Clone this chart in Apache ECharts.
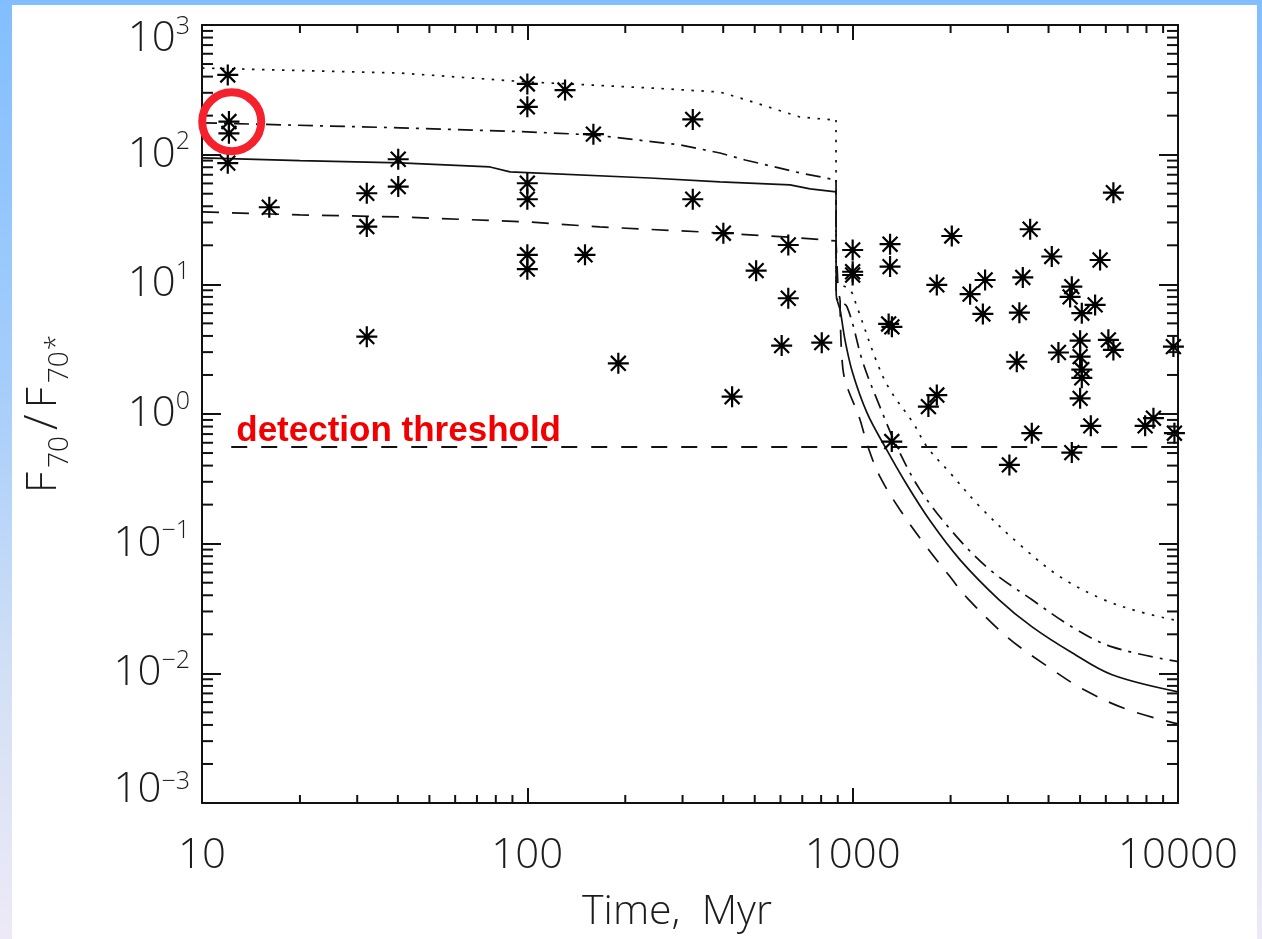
<!DOCTYPE html>
<html>
<head>
<meta charset="utf-8">
<script src="https://cdn.jsdelivr.net/npm/echarts@6/dist/echarts.min.js"></script>
<style>
  html, body { margin: 0; padding: 0; width: 1262px; height: 939px; overflow: hidden; }
  body { background: linear-gradient(to bottom, #82beff 0%, #a4cdfb 40%, #d2e0f5 72%, #eee9f7 100%); }
  #panel { position: absolute; left: 12px; top: 5px; width: 1245px; height: 934px; background: #ffffff; }
  #chart { position: absolute; left: 0; top: 0; width: 1262px; height: 939px; }
</style>
</head>
<body>
<div id="panel"></div>
<div id="chart"></div>
<script>
// Observed 70-micron excess ratios: [age in Myr, F70 / F70*]
const starAges = [
  12.0, 12.1, 12.1, 12.0, 16.1, 32.1, 32.1, 32.1, 40.1, 40.1,
  100, 100, 100, 100, 100, 100, 130.6, 159.6, 150.4, 190.4, 322.5, 322.5,
  400.4, 426, 505, 605, 634, 634, 803.5, 1000, 1000, 1000, 1303, 1303,
  1290, 1320, 1319, 1709, 1814, 1814, 2017, 2296, 2513, 2553, 3032, 3195,
  3254, 3334, 3512, 3553, 4093, 4290, 4716, 4660, 4716, 5062, 5002, 5002,
  5062, 5062, 5002, 5395, 5562, 5761, 6109, 6330, 6330, 7925, 8404, 9680, 9750
];
const starRatios = [
  412, 180, 146, 86, 39.3, 50.4, 27.9, 3.95, 92.2, 56.7,
  351, 234, 60.2, 45.3, 16.9, 13.1, 315, 144, 16.9, 2.46, 187, 45.3,
  24.8, 1.36, 12.75, 3.37, 20.1, 7.81, 3.55, 18.4, 12.5, 11.8, 20.4, 13.7,
  4.95, 4.7, 0.613, 1.14, 1.40, 9.9, 23.6, 8.4, 5.91, 10.8, 0.405, 2.53,
  6.05, 11.3, 26.6, 0.711, 16.4, 2.98, 9.6, 8.0, 0.504, 5.99, 3.68, 2.77,
  2.2, 1.9, 1.32, 0.81, 6.94, 15.4, 3.73, 3.12, 50.9, 0.81, 0.928, 3.31, 0.711
];

// Model evolution tracks: [age in Myr, F70 / F70*]
const solidTrack = [
  [10, 94.3], [20, 90], [40.6, 86.3], [76.8, 80.4], [88.5, 73.6], [238, 66.1], [391, 61.6],
  [642, 58.4], [740, 54.4], [889, 51.6], [890, 8.28], [915, 6.35], [947, 3.73], [1000, 2.07],
  [1107, 1.02], [1258, 0.557], [1449, 0.300], [1730, 0.150], [2139, 0.075], [2819, 0.0369],
  [3561, 0.0228], [4725, 0.0144], [6272, 0.00974], [10000, 0.0072]
];
const dashedTrack = [
  [10, 36.2], [20, 34.3], [40.6, 33.1], [100, 30.3], [167, 27.7], [340, 25.4], [689, 22.8],
  [889, 21.6], [902, 9.05], [915, 7.58], [934, 2.19], [1054, 0.90], [1115, 0.557], [1214, 0.327],
  [1399, 0.182], [1669, 0.0979], [1993, 0.0555], [2247, 0.0382], [2982, 0.0191], [3988, 0.01122],
  [5145, 0.00746], [7023, 0.00523], [10000, 0.00408]
];
const dashDotTrack = [
  [10, 176], [40.6, 161], [100, 150], [160, 142], [295, 119], [391, 103], [467, 91], [689, 72.3],
  [889, 63.8], [890, 8.0], [961, 6.70], [1076, 2.48], [1214, 1.13], [1369, 0.557], [1612, 0.26],
  [2064, 0.117], [2645, 0.0628], [3561, 0.0369], [4725, 0.0228], [6272, 0.016], [10000, 0.0123]
];
const dottedTrack = [
  [10, 466], [40.6, 426], [100, 364], [238, 327], [391, 304], [472, 264], [689, 195], [883, 185],
  [889, 185], [890, 10.8], [982, 9.05], [1031, 6.70], [1189, 2.48], [1303, 1.53], [1534, 0.854],
  [1693, 0.557], [1993, 0.351], [2464, 0.192], [3270, 0.0979], [4341, 0.0555], [5927, 0.0369],
  [7646, 0.0298], [10000, 0.0254]
];

// Detection threshold and the highlighted source
const thresholdLevel = 0.557;
const thresholdStart = 12.3;
const highlighted = [12.34, 179.7];

// Axis ranges and minor tick multipliers
const xRange = [10, 10000];
const yRange = [0.001, 1000];
const xDecades = [10, 100, 1000];
const yDecades = [0.001, 0.01, 0.1, 1, 10, 100];
const minorSteps = [2, 3, 4, 5, 6, 7, 8, 9];

const INK = '#111111';
const TEXT = '#1c1c1c';
const FONT = "'Open Sans', 'DejaVu Sans', sans-serif";

// minor tick items: [x, y, axisKind]
const minorTicks = [];
xDecades.forEach(d => minorSteps.forEach(m => minorTicks.push([d * m, 1, 0])));
yDecades.forEach(d => minorSteps.forEach(m => minorTicks.push([10, d * m, 1])));

function renderMinorTick(params, api) {
  const cs = params.coordSys;
  const kind = api.value(2);
  const p = api.coord([api.value(0), api.value(1)]);
  const st = { stroke: INK, lineWidth: 2 };
  if (kind === 0) {
    const yb = cs.y + cs.height, yt = cs.y;
    return { type: 'group', children: [
      { type: 'line', shape: { x1: p[0], y1: yb, x2: p[0], y2: yb - 8 }, style: st },
      { type: 'line', shape: { x1: p[0], y1: yt, x2: p[0], y2: yt + 8 }, style: st }
    ] };
  }
  const xl = cs.x, xr = cs.x + cs.width;
  return { type: 'group', children: [
    { type: 'line', shape: { x1: xl, y1: p[1], x2: xl + 11, y2: p[1] }, style: st },
    { type: 'line', shape: { x1: xr, y1: p[1], x2: xr - 11, y2: p[1] }, style: st }
  ] };
}

function yTickLabel(v) {
  const e = Math.round(Math.log10(v));
  const exp = e < 0 ? '\u2212' + (-e) : String(e);
  if (e === 3) return '{bt|10}{st|' + exp + '}';
  if (e === -3) return '{bb|10}{sb|' + exp + '}';
  return '{b|10}{s|' + exp + '}';
}

// split a track at its sharp drop: plateau drawn straight, decay drawn smooth
function trackSeries(track, dash) {
  let k = track.length - 1;
  for (let i = 0; i < track.length - 1; i++) {
    if (track[i + 1][1] < track[i][1] / 3) { k = i; break; }
  }
  const base = {
    type: 'line', symbol: 'none', silent: true, z: 3,
    lineStyle: { color: INK, width: 1.7, type: dash, cap: 'butt' }
  };
  return [
    Object.assign({}, base, { data: track.slice(0, k + 1) }),
    Object.assign({}, base, { data: track.slice(k), smooth: 0.35 })
  ];
}

const tickText = { fontFamily: FONT, fontWeight: 300, color: TEXT };
const frameLine = { show: true, lineStyle: { color: INK, width: 2 } };

const chart = echarts.init(document.getElementById('chart'), null, { renderer: 'canvas' });
chart.setOption({
  animation: false,
  backgroundColor: 'transparent',
  grid: { left: 202, top: 25, width: 976, height: 778, containLabel: false },
  xAxis: [
    {
      type: 'log', logBase: 10, min: xRange[0], max: xRange[1], splitNumber: 3, position: 'bottom',
      axisLine: frameLine,
      axisTick: { inside: true, length: 15, lineStyle: { color: INK, width: 2 } },
      splitLine: { show: false },
      axisLabel: Object.assign({
        margin: 32, fontSize: 42, lineHeight: 42,
        formatter: v => String(Math.round(v))
      }, tickText),
      name: 'Time,  Myr', nameLocation: 'middle', nameGap: 89,
      nameTextStyle: Object.assign({ fontSize: 41, lineHeight: 41, padding: [0, 26, 0, 0] }, tickText)
    },
    {
      type: 'log', logBase: 10, min: xRange[0], max: xRange[1], splitNumber: 3, position: 'top',
      axisLine: frameLine,
      axisTick: { inside: true, length: 15, lineStyle: { color: INK, width: 2 } },
      splitLine: { show: false }, axisLabel: { show: false }
    }
  ],
  yAxis: [
    {
      type: 'log', logBase: 10, min: yRange[0], max: yRange[1], splitNumber: 6, position: 'left',
      axisLine: frameLine,
      axisTick: { inside: true, length: 19, lineStyle: { color: INK, width: 2 } },
      splitLine: { show: false },
      axisLabel: {
        margin: 12, formatter: yTickLabel,
        rich: {
          b: Object.assign({ fontSize: 42, lineHeight: 50 }, tickText),
          s: Object.assign({ fontSize: 25, verticalAlign: 'top' }, tickText),
          bt: Object.assign({ fontSize: 42, lineHeight: 71, verticalAlign: 'bottom' }, tickText),
          st: Object.assign({ fontSize: 25, verticalAlign: 'top', padding: [25, 0, 0, 0] }, tickText),
          bb: Object.assign({ fontSize: 42, lineHeight: 67, verticalAlign: 'top' }, tickText),
          sb: Object.assign({ fontSize: 25, verticalAlign: 'top' }, tickText)
        }
      },
      name: '{f|F}{sub|70}{sl|/}{f|F}{sub|70}{ast|*}',
      nameLocation: 'middle', nameRotate: 90, nameGap: 128,
      nameTextStyle: Object.assign({
        fontSize: 42,
        rich: {
          f: Object.assign({ fontSize: 42, lineHeight: 60 }, tickText),
          sl: Object.assign({ fontSize: 46, lineHeight: 60, padding: [0, 6, 0, 6] }, tickText),
          sub: Object.assign({ fontSize: 28, verticalAlign: 'bottom', padding: [0, 0, 0, 4] }, tickText),
          ast: Object.assign({ fontSize: 28, verticalAlign: 'bottom', padding: [0, 0, 3, 1] }, tickText)
        }
      }, tickText)
    },
    {
      type: 'log', logBase: 10, min: yRange[0], max: yRange[1], splitNumber: 6, position: 'right',
      axisLine: frameLine,
      axisTick: { inside: true, length: 19, lineStyle: { color: INK, width: 2 } },
      splitLine: { show: false }, axisLabel: { show: false }
    }
  ],
  series: [
    {
      type: 'custom', name: 'minor ticks', silent: true, z: 5,
      renderItem: renderMinorTick, data: minorTicks
    },
    ...trackSeries(solidTrack, 'solid'),
    ...trackSeries(dashedTrack, [17, 13]),
    ...trackSeries(dashDotTrack, [15, 7, 3, 7]),
    ...trackSeries(dottedTrack, [2.5, 7.5]),
    {
      type: 'line', name: 'threshold', silent: true, z: 3,
      symbol: 'circle', symbolSize: 0, showSymbol: true,
      lineStyle: { color: INK, width: 2, type: [16, 14] },
      data: [
        {
          value: [thresholdStart, thresholdLevel],
          label: {
            show: true, formatter: 'detection threshold', position: 'right', distance: 5, offset: [0, -16],
            color: '#f00000', fontSize: 35, fontWeight: 'bold',
            fontFamily: "'Liberation Sans', Arial, sans-serif"
          }
        },
        { value: [xRange[1], thresholdLevel] }
      ]
    },
    {
      type: 'scatter', name: 'sources', silent: true, z: 4,
      symbol: 'path://M10 0 L10 20 M0 10 L20 10 M2.93 2.93 L17.07 17.07 M2.93 17.07 L17.07 2.93',
      symbolSize: 21,
      itemStyle: { color: 'transparent', borderColor: '#000000', borderWidth: 2.2, opacity: 1 },
      data: starAges.map((a, i) => [a, starRatios[i]])
    },
    {
      type: 'scatter', name: 'highlight', silent: true, z: 6,
      symbol: 'circle', symbolSize: 59,
      itemStyle: { color: 'transparent', borderColor: '#f5222d', borderWidth: 8, opacity: 1 },
      data: [highlighted]
    }
  ]
});
</script>
</body>
</html>
